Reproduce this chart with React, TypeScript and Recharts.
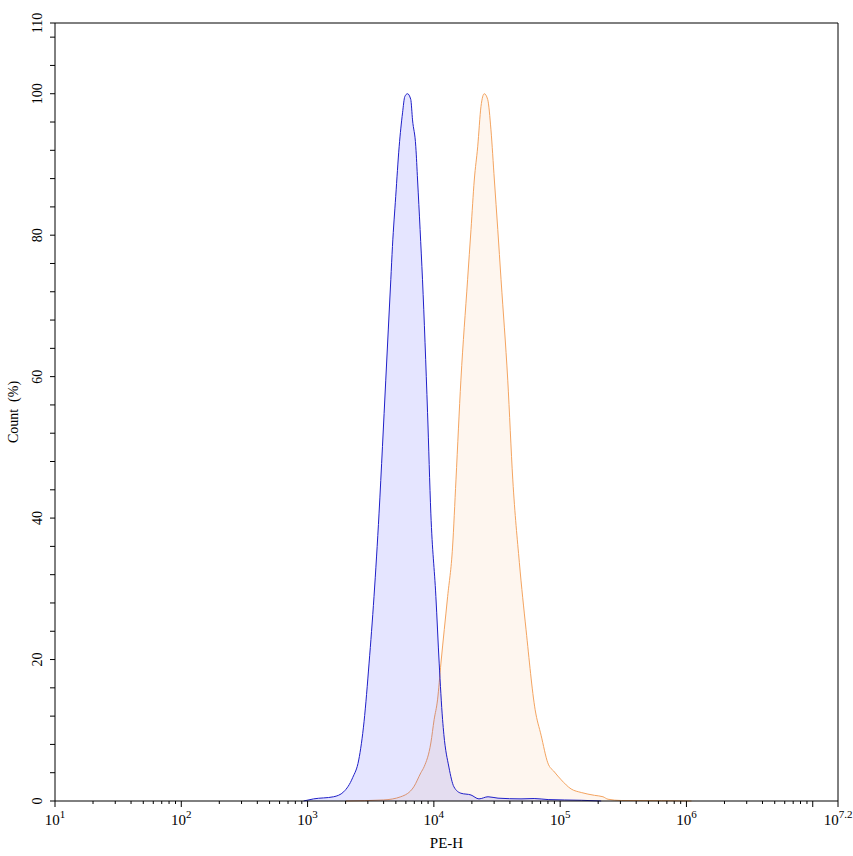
import { AreaChart, Area, XAxis, YAxis, ReferenceLine, Label } from "recharts";

// blue sample: PE-H value and count (%)
const bluePeH = [
  929, 1117, 1607, 1932, 2275, 2541, 2799, 3069, 3357, 3681, 3917, 4159, 4560, 4699,
  4989, 5309, 5649, 5888, 6180, 6561, 6776, 7194, 7430, 7780, 8128, 8913, 9462, 10375,
  11015, 11722, 12000, 13152, 14421, 16368, 19679, 22751, 26853, 32211, 48978, 62230,
  80353, 146893, 211349,
];
const blueCount = [
  0, 0.3, 0.6, 1.3, 3.3, 5.8, 11.2, 19.5, 28.9, 40.7, 50.1, 59.5, 73.7, 78.4,
  85.5, 92.5, 97.3, 99.6, 100, 99.2, 96.3, 92.5, 87.8, 80.8, 73.7, 54.9, 40.7, 28.9,
  19.5, 11.5, 9.4, 4.8, 2.0, 1.1, 0.85, 0.3, 0.6, 0.4, 0.3, 0.35,
  0.2, 0.1, 0,
];

// orange sample
const orangePeH = [
  2004, 4009, 5470, 6934, 7889, 8375, 9462, 10046, 10691, 11376, 12853, 14060, 14962,
  16368, 18493, 19679, 20893, 22233, 23605, 25061, 26669, 28314, 30130, 32063, 34041,
  38459, 42170, 47534, 53703, 63387, 70632, 79799, 90157, 101859, 122180, 146893,
  187068, 218273, 239332, 304789, 633870, 1096478,
];
const orangeCount = [
  0, 0.15, 0.6, 2.0, 4.0, 4.85, 8.2, 11.5, 14.3, 19.5, 28.9, 35.9, 45.4,
  59.5, 73.7, 80.8, 87.8, 92.5, 98.2, 100, 99.2, 94.9, 87.8, 80.8, 73.7,
  59.5, 45.4, 33.7, 24.2, 12.9, 9.3, 5.4, 4.1, 3.0, 1.7, 1.2,
  0.8, 0.6, 0.25, 0.07, 0.04, 0,
];

// axis ticks
const xDecades = [1, 2, 3, 4, 5, 6, 7];
const xLabelExps = ["1", "2", "3", "4", "5", "6", "7.2"];
const xMaxExp = 7.2;
const yTicks = [
  0, 4, 8, 12, 16, 20, 24, 28, 32, 36, 40, 44, 48, 52, 56, 60, 64, 68, 72, 76, 80, 84,
  88, 92, 96, 100, 104, 108, 110,
];
const yLabels = [0, 20, 40, 60, 80, 100, 110];

const FONT = "'Liberation Serif', 'Times New Roman', serif";
const xMax = Math.pow(10, xMaxExp);

const blueData = bluePeH.map((v, i) => ({ peh: v, count: blueCount[i] }));
const orangeData = orangePeH.map((v, i) => ({ peh: v, count: orangeCount[i] }));

const xMajor = [...xDecades.map((d) => Math.pow(10, d)), xMax];
const xMinor: number[] = [];
xDecades.forEach((d) => {
  for (let k = 2; k <= 9; k++) {
    const v = k * Math.pow(10, d);
    if (v < xMax) xMinor.push(v);
  }
});
const xTicks = [...xMajor, ...xMinor].sort((a, b) => a - b);

function labelFor(v: number) {
  const e = Math.log10(v);
  return xLabelExps.find((s) => Math.abs(Number(s) - e) < 1e-6);
}

function XTick(props: any) {
  const { x, y, payload } = props;
  const v = payload.value as number;
  const isMajor = xMajor.some((m) => Math.abs(m - v) / m < 1e-6);
  const label = labelFor(v);
  return (
    <g>
      <line x1={x} x2={x} y1={y} y2={y + (isMajor ? 6 : 3)} stroke="#000" strokeWidth={1} />
      {label && (
        <text x={x} y={y + 24} textAnchor="middle" fontFamily={FONT} fontSize={15} fill="#000">
          <tspan>10</tspan>
          <tspan dy={-7} fontSize={11}>
            {label}
          </tspan>
        </text>
      )}
    </g>
  );
}

function YTick(props: any) {
  const { x, y, payload } = props;
  const v = payload.value as number;
  const show = yLabels.includes(v);
  return (
    <g>
      <line x1={x - 5} x2={x} y1={y} y2={y} stroke="#000" strokeWidth={1} />
      {show && (
        <text
          transform={`translate(${x - 13},${y}) rotate(-90)`}
          textAnchor="middle"
          fontFamily={FONT}
          fontSize={14}
          fill="#000"
        >
          {v}
        </text>
      )}
    </g>
  );
}

export default function App() {
  return (
    <div style={{ position: "absolute", left: 0, top: 0, width: 853, height: 856, background: "#fff" }}>
      <AreaChart width={853} height={856} margin={{ top: 23, right: 15, left: 15, bottom: 25 }}>
        <XAxis
          dataKey="peh"
          type="number"
          scale="log"
          domain={[10, xMax]}
          allowDataOverflow
          ticks={xTicks}
          interval={0}
          tick={<XTick />}
          tickLine={false}
          tickSize={0}
          tickMargin={0}
          height={30}
          axisLine={{ stroke: "#000", strokeWidth: 1 }}
        >
          <Label
            content={(p: any) => {
              const vb = p.viewBox;
              return (
                <text x={vb.x + vb.width / 2} y={vb.y + 47} textAnchor="middle" fontFamily={FONT} fontSize={15} fill="#000">
                  PE-H
                </text>
              );
            }}
          />
        </XAxis>
        <YAxis
          type="number"
          domain={[0, 110]}
          ticks={yTicks}
          interval={0}
          tick={<YTick />}
          tickLine={false}
          tickSize={0}
          tickMargin={0}
          width={40}
          axisLine={{ stroke: "#000", strokeWidth: 1 }}
        >
          <Label
            content={(p: any) => {
              const vb = p.viewBox;
              const cx = vb.x + vb.width - 37;
              const cy = vb.y + vb.height / 2;
              return (
                <text
                  transform={`translate(${cx},${cy}) rotate(-90)`}
                  textAnchor="middle"
                  fontFamily={FONT}
                  fontSize={14}
                  fill="#000"
                >
                  {"Count\u00a0 (%)"}
                </text>
              );
            }}
          />
        </YAxis>
        <ReferenceLine y={110} stroke="#000" strokeWidth={1} ifOverflow="visible" />
        <ReferenceLine x={xMax} stroke="#000" strokeWidth={1} ifOverflow="visible" />
        <Area
          data={orangeData}
          dataKey="count"
          type="monotone"
          stroke="#f4a460"
          strokeWidth={1}
          fill="#f4a460"
          fillOpacity={0.1}
          isAnimationActive={false}
          dot={false}
          activeDot={false}
        />
        <Area
          data={blueData}
          dataKey="count"
          type="monotone"
          stroke="#1f1fc8"
          strokeWidth={1}
          fill="#0000ff"
          fillOpacity={0.1}
          isAnimationActive={false}
          dot={false}
          activeDot={false}
        />
      </AreaChart>
    </div>
  );
}
